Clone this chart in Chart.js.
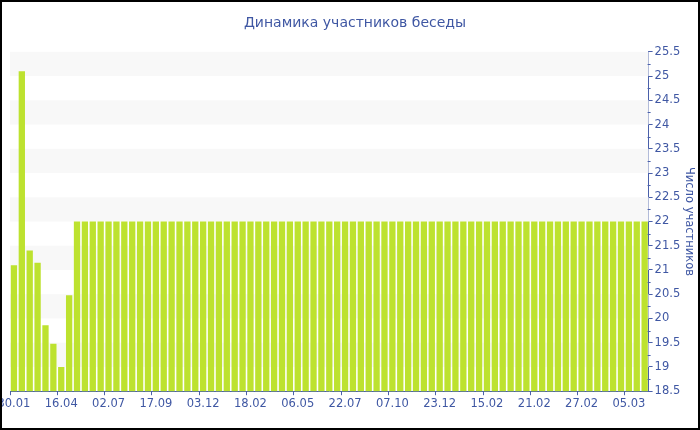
<!DOCTYPE html>
<html>
<head>
<meta charset="utf-8">
<script src="https://cdn.jsdelivr.net/npm/chart.js@4"></script>
<style>
html,body{margin:0;padding:0;background:#fff;}
#wrap{position:relative;width:700px;height:430px;}
</style>
</head>
<body>
<div id="wrap"><canvas id="c" width="700" height="430"></canvas></div>
<script>
const chartTitle = 'Динамика участников беседы';
const axisTitle = 'Число участников';
const tickLabels = ['30.01','16.04','02.07','17.09','03.12','18.02','06.05','22.07','07.10','23.12','15.02','21.02','27.02','05.03'];
const labelEvery = 6;
const participants = [
  21.1, 25.1, 21.4, 21.15, 19.86, 19.48, 19.0, 20.48,
  22, 22, 22, 22, 22, 22, 22, 22, 22, 22,
  22, 22, 22, 22, 22, 22, 22, 22, 22, 22,
  22, 22, 22, 22, 22, 22, 22, 22, 22, 22,
  22, 22, 22, 22, 22, 22, 22, 22, 22, 22,
  22, 22, 22, 22, 22, 22, 22, 22, 22, 22,
  22, 22, 22, 22, 22, 22, 22, 22, 22, 22,
  22, 22, 22, 22, 22, 22, 22, 22, 22, 22,
  22, 22, 22
];
const yMin = 18.5, yMax = 25.5, yStep = 0.5;

const categories = participants.map((v, i) => (i % labelEvery === 0 ? (tickLabels[i / labelEvery] || '') : ''));

const textColor = '#3f57a3';
const axisColor = '#4a60aa';
const barColor = '#bde22f';
const bandColor = '#f8f8f8';
const font = 'DejaVu Sans';

const bandsPlugin = {
  id: 'bands',
  beforeDatasetsDraw(chart) {
    const {ctx, chartArea, scales: {y}} = chart;
    ctx.save();
    ctx.fillStyle = bandColor;
    const t = y.ticks;
    for (let i = 0; i < t.length - 1; i++) {
      if (Number.isInteger(t[i].value)) {
        const a = y.getPixelForValue(t[i].value);
        const b = y.getPixelForValue(t[i + 1].value);
        ctx.fillRect(chartArea.left, b, chartArea.right - chartArea.left, a - b);
      }
    }
    ctx.restore();
  }
};

const minorTicksPlugin = {
  id: 'minorTicks',
  afterDraw(chart) {
    const {ctx, scales: {y}} = chart;
    const x = y.left;
    ctx.save();
    ctx.strokeStyle = axisColor;
    ctx.lineWidth = 1;
    const t = y.ticks;
    for (let i = 0; i < t.length - 1; i++) {
      const m = (t[i].value + t[i + 1].value) / 2;
      const p = Math.round(y.getPixelForValue(m)) + 0.5;
      ctx.beginPath();
      ctx.moveTo(x - 1, p);
      ctx.lineTo(x + 2, p);
      ctx.stroke();
    }
    ctx.restore();
  }
};

const borderPlugin = {
  id: 'frame',
  afterDraw(chart) {
    const ctx = chart.ctx;
    ctx.save();
    ctx.strokeStyle = '#000';
    ctx.lineWidth = 2;
    ctx.strokeRect(1, 1, chart.width - 2, chart.height - 2);
    ctx.restore();
  }
};

new Chart(document.getElementById('c'), {
  type: 'bar',
  data: {
    labels: categories,
    datasets: [{
      data: participants,
      backgroundColor: barColor,
      borderWidth: 0,
      barPercentage: 0.8,
      categoryPercentage: 1
    }]
  },
  options: {
    responsive: false,
    animation: false,
    devicePixelRatio: 1,
    layout: {padding: {left: 10, right: 0, top: 0, bottom: 17}},
    plugins: {
      legend: {display: false},
      tooltip: {enabled: false},
      title: {
        display: true,
        text: chartTitle,
        color: textColor,
        font: {family: font, size: 14, weight: 'normal'},
        padding: {top: 15, bottom: 20}
      }
    },
    scales: {
      x: {
        offset: true,
        afterFit(scale) { scale.paddingLeft = 0; scale.paddingRight = 0; },
        border: {display: true, color: axisColor, width: 1},
        grid: {
          display: true,
          drawOnChartArea: false,
          drawTicks: true,
          tickLength: 4,
          tickColor: ctx => (ctx.index % labelEvery === 0 ? axisColor : 'rgba(0,0,0,0)')
        },
        ticks: {
          autoSkip: false,
          maxRotation: 0,
          minRotation: 0,
          color: textColor,
          padding: 2,
          font: {family: font, size: 11.5}
        }
      },
      y: {
        position: 'right',
        min: yMin,
        max: yMax,
        border: {display: true, color: axisColor, width: 1},
        grid: {display: true, drawOnChartArea: false, drawTicks: true, tickLength: 4, tickColor: axisColor},
        ticks: {
          stepSize: yStep,
          color: textColor,
          padding: 2,
          font: {family: font, size: 11.5},
          callback: v => String(Number(v))
        },
        title: {
          display: true,
          text: axisTitle,
          color: textColor,
          font: {family: font, size: 11.5},
          padding: {top: 4, bottom: 0}
        }
      }
    }
  },
  plugins: [bandsPlugin, minorTicksPlugin, borderPlugin]
});
</script>
</body>
</html>
